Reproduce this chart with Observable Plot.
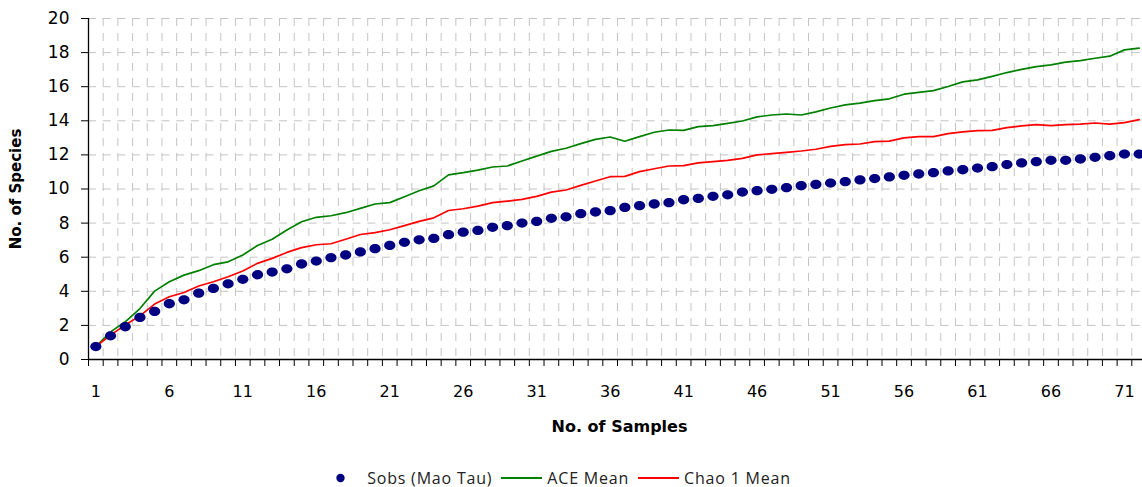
<!DOCTYPE html>
<html><head><meta charset="utf-8">
<script src="https://cdn.jsdelivr.net/npm/d3@7"></script>
<script src="https://cdn.jsdelivr.net/npm/@observablehq/plot@0.6"></script>
<style>
body{margin:0;background:#fff;}
#chart{width:1142px;}
#chart svg{display:block;}
.legend{display:flex;justify-content:center;align-items:center;width:1142px;box-sizing:border-box;padding-right:15px;height:42px;margin-top:12px;font-family:"Open Sans",sans-serif;font-size:16px;letter-spacing:0.8px;color:#222;}
.legend .sw{display:inline-block;}
</style></head><body>
<div id="chart"></div>
<div class="legend" id="legend"></div>
<script>
// Observed species (Sobs, Mao Tau) per number of samples 1..72
const sobs = [0.76,1.39,1.92,2.47,2.82,3.27,3.50,3.89,4.17,4.44,
  4.70,4.97,5.13,5.32,5.60,5.77,5.97,6.13,6.31,6.50,
  6.69,6.87,7.02,7.10,7.32,7.47,7.57,7.75,7.85,8.00,
  8.10,8.28,8.37,8.55,8.65,8.73,8.92,9.02,9.12,9.20,
  9.37,9.45,9.57,9.66,9.82,9.90,9.98,10.08,10.19,10.27,
  10.35,10.43,10.53,10.61,10.71,10.80,10.88,10.96,11.06,11.13,
  11.23,11.31,11.43,11.53,11.60,11.68,11.68,11.76,11.86,11.95,12.05,12.05];
const ace = [0.76,1.62,2.21,2.99,4.01,4.56,4.95,5.21,5.56,5.73,
  6.13,6.69,7.05,7.59,8.08,8.34,8.43,8.61,8.86,9.12,
  9.20,9.55,9.90,10.18,10.83,10.96,11.11,11.29,11.35,11.64,
  11.93,12.21,12.39,12.66,12.91,13.05,12.80,13.07,13.33,13.46,
  13.44,13.66,13.72,13.85,13.99,14.23,14.34,14.40,14.34,14.52,
  14.75,14.93,15.04,15.18,15.29,15.56,15.67,15.77,16.01,16.28,
  16.40,16.61,16.83,17.02,17.18,17.28,17.44,17.53,17.67,17.79,18.16,18.26];
const chao1 = [0.76,1.43,2.02,2.56,3.25,3.68,3.93,4.31,4.56,4.85,
  5.19,5.64,5.93,6.28,6.56,6.73,6.79,7.05,7.33,7.44,
  7.61,7.85,8.10,8.31,8.74,8.84,9.00,9.20,9.29,9.39,
  9.57,9.82,9.94,10.21,10.47,10.72,10.74,11.02,11.19,11.35,
  11.37,11.53,11.60,11.68,11.80,12.00,12.07,12.15,12.23,12.33,
  12.50,12.60,12.64,12.78,12.81,13.00,13.07,13.07,13.25,13.35,
  13.42,13.44,13.60,13.70,13.78,13.72,13.78,13.80,13.87,13.81,13.89,14.07];
const xTickLabels = [1,6,11,16,21,26,31,36,41,46,51,56,61,66,71];
const yTicks = [0,2,4,6,8,10,12,14,16,18,20];
const seriesNames = ["Sobs (Mao Tau)","ACE Mean","Chao 1 Mean"];
const seriesColors = ["#000080","#008000","#ff0000"];

const samples = sobs.map((_, i) => i + 1);
const rows = vals => vals.map((v, i) => ({sample: samples[i], value: v}));
const bandEdges = [...samples.map(s => s - 0.5), samples.length + 0.5];

const ellipse = {draw(ctx, size){
  const r = Math.sqrt(size / Math.PI), rx = r * 1.12, ry = r * 0.93, k = 0.5523;
  ctx.moveTo(rx, 0);
  ctx.bezierCurveTo(rx, ry*k, rx*k, ry, 0, ry);
  ctx.bezierCurveTo(-rx*k, ry, -rx, ry*k, -rx, 0);
  ctx.bezierCurveTo(-rx, -ry*k, -rx*k, -ry, 0, -ry);
  ctx.bezierCurveTo(rx*k, -ry, rx, -ry*k, rx, 0);
  ctx.closePath();
}};

const gridColor = "#c4c4c4";
const chart = Plot.plot({
  width: 1142, height: 445,
  marginLeft: 88, marginRight: 0, marginTop: 18, marginBottom: 86,
  style: {fontFamily: "'DejaVu Sans', sans-serif", color: "#000", background: "#fff"},
  x: {type: "linear", domain: [0.5, samples.length + 0.5], range: [88, 1146]},
  y: {domain: [0, 20]},
  marks: [
    Plot.ruleX(bandEdges, {x: d => d, y1: 20, y2: 0, stroke: gridColor, strokeDasharray: "8,7"}),
    Plot.ruleY(yTicks.filter(t => t > 0), {y: d => d, x1: 0.5, x2: samples.length + 0.5, stroke: gridColor, strokeDasharray: "8,6.7"}),
    Plot.axisY({ticks: yTicks, tickSize: 7, tickPadding: 12, fontSize: 17, label: null}),
    Plot.axisX({ticks: bandEdges, tickSize: 7, tickFormat: () => "", label: null}),
    Plot.axisX({ticks: xTickLabels, tickSize: 0, tickPadding: 26, fontSize: 16, label: null}),
    Plot.ruleX([0.5], {stroke: "#000", strokeWidth: 1.3}),
    Plot.ruleY([0], {stroke: "#000", strokeWidth: 1.3}),
    Plot.line(rows(ace), {x: "sample", y: "value", stroke: seriesColors[1], strokeWidth: 1.7}),
    Plot.line(rows(chao1), {x: "sample", y: "value", stroke: seriesColors[2], strokeWidth: 1.7}),
    Plot.dot(rows(sobs), {x: "sample", y: "value", fill: seriesColors[0], r: 5, symbol: ellipse, stroke: null}),
    Plot.text(["No. of Samples"], {frameAnchor: "bottom", dy: 67, dx: 4, lineAnchor: "middle", textAnchor: "middle", fontWeight: "bold", fontSize: 16, fill: "#000"}),
    Plot.text(["No. of Species"], {frameAnchor: "left", dx: -72, rotate: -90, lineAnchor: "middle", textAnchor: "middle", fontWeight: "bold", fontSize: 15, fill: "#000"})
  ]
});
document.getElementById("chart").append(chart);

// Legend
const leg = document.getElementById("legend");
function add(el){ leg.appendChild(el); return el; }
function span(txt, ml){ const s = document.createElement("span"); s.textContent = txt; s.style.marginLeft = ml + "px"; return s; }
function swatch(kind, color, ml){
  const ns = "http://www.w3.org/2000/svg";
  const svg = document.createElementNS(ns, "svg");
  svg.setAttribute("class", "sw");
  const w = kind === "dot" ? 9 : 41;
  svg.setAttribute("width", w); svg.setAttribute("height", 10);
  svg.style.marginLeft = ml + "px";
  if (kind === "dot") {
    const c = document.createElementNS(ns, "circle");
    c.setAttribute("cx", 4.5); c.setAttribute("cy", 5); c.setAttribute("r", 4.2); c.setAttribute("fill", color);
    svg.appendChild(c);
  } else {
    const l = document.createElementNS(ns, "line");
    l.setAttribute("x1", 0); l.setAttribute("x2", w); l.setAttribute("y1", 5); l.setAttribute("y2", 5);
    l.setAttribute("stroke", color); l.setAttribute("stroke-width", 2);
    svg.appendChild(l);
  }
  return svg;
}
add(swatch("dot", seriesColors[0], 0));
add(span(seriesNames[0], 22));
add(swatch("line", seriesColors[1], 9));
add(span(seriesNames[1], 5));
add(swatch("line", seriesColors[2], 9));
add(span(seriesNames[2], 5));
</script>
</body></html>
